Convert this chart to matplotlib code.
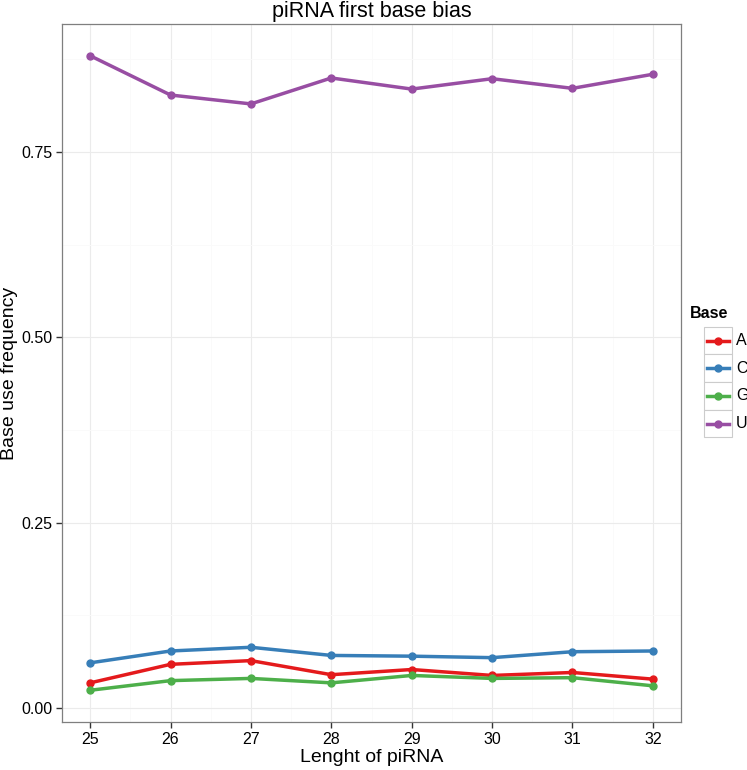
import matplotlib
matplotlib.use("Agg")
import matplotlib.pyplot as plt
from matplotlib.lines import Line2D
from matplotlib.patches import Rectangle

plt.rcParams['font.family'] = ['Liberation Sans', 'DejaVu Sans']

lengths = [25, 26, 27, 28, 29, 30, 31, 32]
base_A = [0.034, 0.059, 0.064, 0.045, 0.052, 0.044, 0.048, 0.039]
base_C = [0.061, 0.077, 0.082, 0.071, 0.070, 0.068, 0.076, 0.077]
base_G = [0.024, 0.037, 0.040, 0.034, 0.044, 0.040, 0.041, 0.030]
base_U = [0.880, 0.827, 0.815, 0.850, 0.835, 0.849, 0.836, 0.855]
bases = ['A', 'C', 'G', 'U']
colors = ['#E41A1C', '#377EB8', '#4DAF4A', '#984EA3']
yticks = [0.00, 0.25, 0.50, 0.75]

fig = plt.figure(figsize=(7.47, 7.70), dpi=100)
ax = fig.add_axes([62/747, 1-722/770, (681-62)/747, (722-24)/770])

for vals, c in zip([base_A, base_C, base_G, base_U], colors):
    ax.plot(lengths, vals, color=c, lw=2.5, marker='o', ms=5, solid_capstyle='butt', zorder=3)

ax.set_xlim(24.65, 32.35)
ax.set_ylim(-0.0188, 0.9228)
ax.set_xticks(lengths)
ax.set_yticks(yticks)
ax.set_yticklabels([f"{v:.2f}" for v in yticks])
ax.set_xticks([25.5 + i for i in range(7)], minor=True)
ax.set_yticks([0.125, 0.375, 0.625, 0.875], minor=True)
ax.grid(True, which='major', color='#EBEBEB', lw=0.8, zorder=0)
ax.grid(True, which='minor', color='#FAFAFA', lw=0.6, zorder=0)
ax.set_axisbelow(True)
for s in ax.spines.values():
    s.set_color('#7F7F7F')
    s.set_linewidth(0.9)
ax.tick_params(axis='both', which='major', length=4, width=1, color='#333333',
               labelsize=11.5, labelcolor='black', pad=3)
ax.tick_params(axis='both', which='minor', length=0)

ax.set_xlabel('Lenght of piRNA', fontsize=14, labelpad=2)
ax.set_ylabel('Base use frequency', fontsize=14)
ax.yaxis.set_label_coords(-0.071, 0.5)
ax.set_title('piRNA first base bias', fontsize=15.5, pad=5)

# Legend
fig.text(690/747, 1-313/770, 'Base', fontsize=11.5, fontweight='bold', va='center', ha='left')
key_top = 326.7
row_h = 27.7
for i, (b, c) in enumerate(zip(bases, colors)):
    y0 = key_top + i*row_h
    fig.add_artist(Rectangle((704/747, 1-(y0+row_h)/770), 28/747, row_h/770,
                             transform=fig.transFigure, facecolor='white',
                             edgecolor='#CCCCCC', lw=0.8))
    yc = 1-(y0+row_h/2)/770
    fig.add_artist(Line2D([707/747, 729/747], [yc, yc], transform=fig.transFigure,
                          color=c, lw=2.5))
    fig.add_artist(Line2D([718/747], [yc], transform=fig.transFigure, color=c,
                          marker='o', ms=5))
    fig.text(736/747, yc, b, fontsize=11.5, va='center', ha='left')

fig.savefig('out.png', dpi=100)
